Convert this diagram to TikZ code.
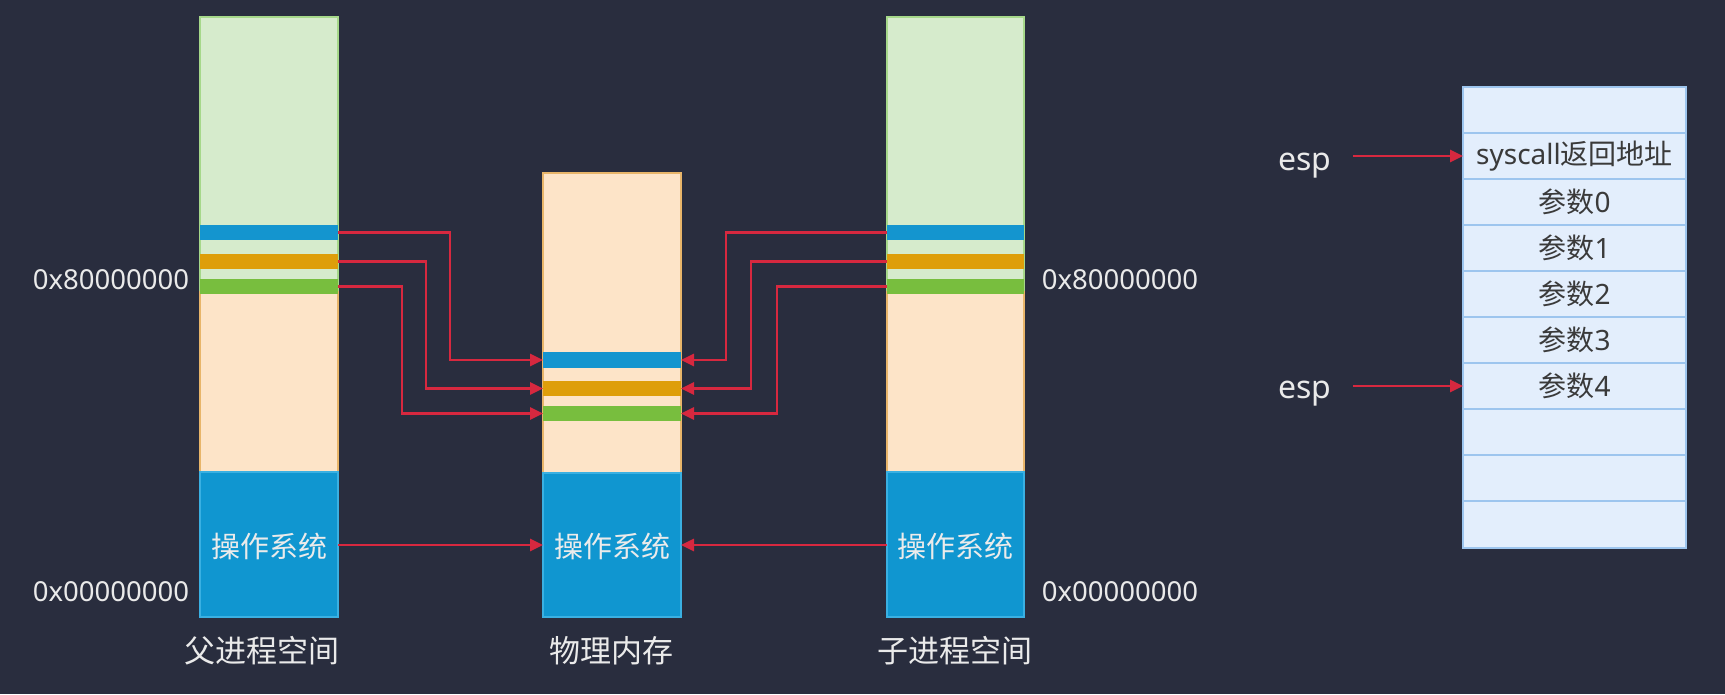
\documentclass[tikz,border=0pt]{standalone}
\usepackage{fontspec}
\setmainfont{Noto Sans CJK SC}
\newfontfamily\lat{Noto Sans}
\usetikzlibrary{arrows.meta}
\definecolor{bgc}{HTML}{292D3E}
\definecolor{lgreen}{HTML}{D6EBCC}
\definecolor{lgreenb}{HTML}{A6D88A}
\definecolor{peach}{HTML}{FDE4C8}
\definecolor{peachb}{HTML}{E8B56A}
\definecolor{osblue}{HTML}{1096D0}
\definecolor{osblueb}{HTML}{3AB0E2}
\definecolor{bblue}{HTML}{1495CF}
\definecolor{borange}{HTML}{DE9E0A}
\definecolor{bgreen}{HTML}{78BE3E}
\definecolor{redc}{HTML}{D7283F}
\definecolor{stackf}{HTML}{E3EEFC}
\definecolor{stackb}{HTML}{9DC5EE}
\definecolor{stackt}{HTML}{3A3A3A}
\definecolor{lbl}{HTML}{EAEAEA}
\tikzset{
  reg/.style={inner sep=0pt, outer sep=0pt, line width=1.2pt, anchor=north west},
  gr/.style={reg, fill=lgreen, draw=lgreenb},
  pe/.style={reg, fill=peach, draw=peachb},
  os/.style={reg, fill=osblue, draw=osblueb},
  band/.style={inner sep=0pt, outer sep=0pt, anchor=north west, minimum height=15pt},
  arr/.style={draw=redc, line width=2.6pt, -{Triangle[length=13pt,width=12pt]}},
  lab/.style={text=lbl, font=\fontsize{31}{35}\selectfont},
  hex/.style={text=lbl, font=\lat\fontsize{27.5}{32}\selectfont},
  oslab/.style={text=white!92!black, font=\fontsize{29}{34}\selectfont},
  cell/.style={inner sep=0pt, outer sep=0pt, anchor=north west, minimum width=223pt, minimum height=46pt, fill=stackf, draw=stackb, line width=1.6pt, text=stackt, font=\fontsize{28}{32}\selectfont},
}
\begin{document}
\begin{tikzpicture}[x=1pt,y=-1pt]
\fill[bgc] (0,0) rectangle (1725,694);
\useasboundingbox (0,0) rectangle (1725,694);
% parent column
\node[gr, minimum width=138pt, minimum height=275pt] (pg) at (200,17) {};
\node[pe, minimum width=138pt, minimum height=180pt] (pp) at (200,292) {};
\node[os, minimum width=138pt, minimum height=145pt] (pos) at (200,472) {};
\node[band, minimum width=138pt, fill=bblue] (pb1) at (200,225) {};
\node[band, minimum width=138pt, fill=borange] (pb2) at (200,254) {};
\node[band, minimum width=138pt, fill=bgreen] (pb3) at (200,279) {};
% physical column
\node[pe, minimum width=138pt, minimum height=300pt] (mp) at (543,173) {};
\node[os, minimum width=138pt, minimum height=144pt] (mos) at (543,473) {};
\node[band, minimum width=138pt, fill=bblue, minimum height=16pt] (mb1) at (543,352) {};
\node[band, minimum width=138pt, fill=borange] (mb2) at (543,381) {};
\node[band, minimum width=138pt, fill=bgreen] (mb3) at (543,406) {};
% child column
\node[gr, minimum width=137pt, minimum height=275pt] (cg) at (887,17) {};
\node[pe, minimum width=137pt, minimum height=180pt] (cp) at (887,292) {};
\node[os, minimum width=137pt, minimum height=145pt] (cos) at (887,472) {};
\node[band, minimum width=137pt, fill=bblue] (cb1) at (887,225) {};
\node[band, minimum width=137pt, fill=borange] (cb2) at (887,254) {};
\node[band, minimum width=137pt, fill=bgreen] (cb3) at (887,279) {};
% OS labels
\node[oslab] (posl) at (269,546) {操作系统};
\node[oslab] (mosl) at (612,546) {操作系统};
\node[oslab] (cosl) at (955,546) {操作系统};
% column labels
\node[lab] (plab) at (262,651) {父进程空间};
\node[lab] (mlab) at (611,651) {物理内存};
\node[lab] (clab) at (955,651) {子进程空间};
% address labels
\node[hex] (a1) at (111,280) {0x80000000};
\node[hex] (a2) at (111,592) {0x00000000};
\node[hex] (a3) at (1120,280) {0x80000000};
\node[hex] (a4) at (1120,592) {0x00000000};
% band connectors
\draw[arr] (pb1.east) -- ([xshift=112pt]pb1.east) |- (mb1.west);
\draw[arr] (pb2.east) -- ([xshift=88pt]pb2.east) |- (mb2.west);
\draw[arr] (pb3.east) -- ([xshift=64pt]pb3.east) |- (mb3.west);
\draw[arr] (cb1.west) -- ([xshift=-161pt]cb1.west) |- (mb1.east);
\draw[arr] (cb2.west) -- ([xshift=-136pt]cb2.west) |- (mb2.east);
\draw[arr] (cb3.west) -- ([xshift=-110pt]cb3.west) |- (mb3.east);
% OS connectors
\coordinate (posr) at (338,545);
\coordinate (mosL) at (543,545);
\coordinate (mosR) at (681,545);
\coordinate (cosL) at (887,545);
\draw[arr] (posr) -- (mosL);
\draw[arr] (cosL) -- (mosR);
% stack
\node[cell] (s0) at (1463,87) {};
\node[cell] (s1) at (1463,133) {{\lat syscall}返回地址};
\node[cell] (s2) at (1463,179) {参数{\lat 0}};
\node[cell] (s3) at (1463,225) {参数{\lat 1}};
\node[cell] (s4) at (1463,271) {参数{\lat 2}};
\node[cell] (s5) at (1463,317) {参数{\lat 3}};
\node[cell] (s6) at (1463,363) {参数{\lat 4}};
\node[cell] (s7) at (1463,409) {};
\node[cell] (s8) at (1463,455) {};
\node[cell, minimum height=47pt] (s9) at (1463,501) {};
% esp
\node[hex, font=\lat\fontsize{32}{36}\selectfont] (e1) at (1305,166) {esp};
\node[hex, font=\lat\fontsize{32}{36}\selectfont] (e2) at (1305,394) {esp};
\draw[arr] ([xshift=18pt]e1.east |- s1.west) -- (s1.west);
\draw[arr] ([xshift=18pt]e2.east |- s6.west) -- (s6.west);
\end{tikzpicture}
\end{document}
